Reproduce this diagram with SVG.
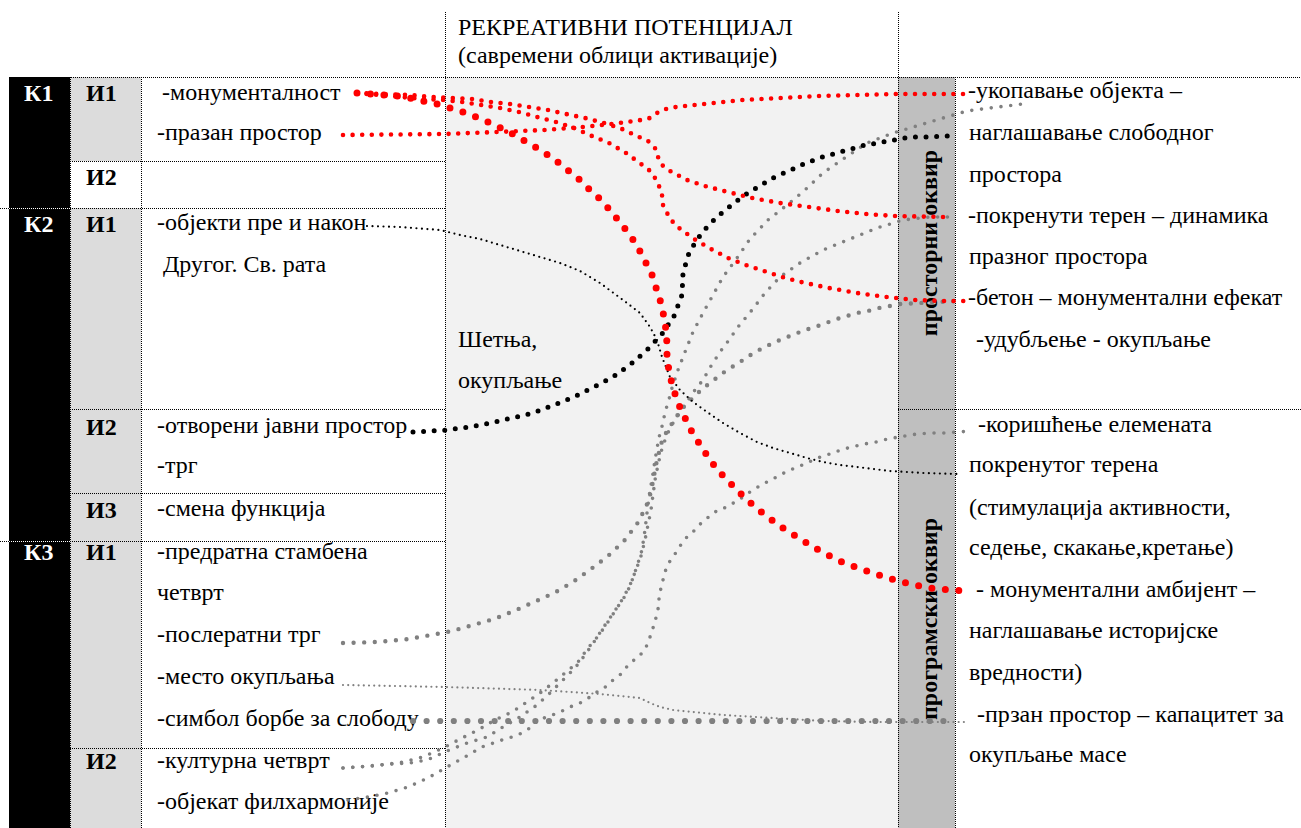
<svg xmlns="http://www.w3.org/2000/svg" width="1301" height="828" viewBox="0 0 1301 828">
<style>
text{font-family:"Liberation Serif","Times New Roman",serif;font-size:24px;fill:#000}
.b{font-weight:bold}
.w{fill:#fff}
.grid{stroke:#000;stroke-width:1;stroke-dasharray:1 1;fill:none}
.c{fill:none;stroke-linecap:round;stroke-linejoin:round}
.rbig{stroke:#ff0000;stroke-width:7;stroke-dasharray:0 13.5}
.rmed{stroke:#ff0000;stroke-width:4.6;stroke-dasharray:0 9.6}
.kmed{stroke:#000;stroke-width:5;stroke-dasharray:0 10.6}
.kthin{stroke:#000;stroke-width:2.2;stroke-dasharray:0 5.5}
.gbig{stroke:#808080;stroke-width:6.2;stroke-dasharray:0 13.6}
.gmed{stroke:#808080;stroke-width:4.4;stroke-dasharray:0 10.6}
.gsm{stroke:#808080;stroke-width:3.6;stroke-dasharray:0 9.8}
.gthin{stroke:#808080;stroke-width:2.2;stroke-dasharray:0 5.2}
</style>

<g id="backgrounds">
<rect x="445" y="77" width="453" height="751" fill="#f2f2f2"/>
<rect x="898" y="77" width="57" height="751" fill="#bfbfbf"/>
</g>

<g id="header">
<text x="458" y="35">РЕКРЕАТИВНИ ПОТЕНЦИЈАЛ</text>
<text x="458" y="63">(савремени облици активације)</text>
</g>

<g id="k1">
<rect x="9" y="77" width="61" height="131" fill="#000"/>
<text class="b w" x="24" y="101">К1</text>
</g>
<g id="k2">
<rect x="9" y="209" width="61" height="332" fill="#000"/>
<text class="b w" x="24" y="232">К2</text>
</g>
<g id="k3">
<rect x="9" y="542" width="61" height="286" fill="#000"/>
<text class="b w" x="24" y="560">К3</text>
</g>

<g id="k1-i1">
<rect x="70" y="77" width="71" height="84" fill="#dcdcdc"/>
<text class="b" x="86" y="101">И1</text>
<text x="162" y="100">-монументалност</text>
<text x="157" y="140">-празан простор</text>
</g>
<g id="k1-i2">
<text class="b" x="86" y="185">И2</text>
</g>
<g id="k2-i1">
<rect x="70" y="208" width="71" height="201" fill="#dcdcdc"/>
<text class="b" x="86" y="232">И1</text>
<text x="157" y="230">-објекти пре и након</text>
<text x="163" y="272">Другог. Св. рата</text>
</g>
<g id="k2-i2">
<rect x="70" y="409" width="71" height="84" fill="#dcdcdc"/>
<text class="b" x="86" y="435">И2</text>
<text x="157" y="433">-отворени јавни простор</text>
<text x="157" y="473">-трг</text>
</g>
<g id="k2-i3">
<rect x="70" y="493" width="71" height="48" fill="#dcdcdc"/>
<text class="b" x="86" y="518">И3</text>
<text x="157" y="516">-смена функција</text>
</g>
<g id="k3-i1">
<rect x="70" y="541" width="71" height="207" fill="#dcdcdc"/>
<text class="b" x="86" y="560">И1</text>
<text x="157" y="559">-предратна стамбена</text>
<text x="157" y="600">четврт</text>
<text x="157" y="642">-послератни трг</text>
<text x="157" y="684">-место окупљања</text>
<text x="157" y="726">-симбол борбе за слободу</text>
</g>
<g id="k3-i2">
<rect x="70" y="748" width="71" height="80" fill="#dcdcdc"/>
<text class="b" x="86" y="769">И2</text>
<text x="157" y="768">-културна четврт</text>
<text x="157" y="809">-објекат филхармоније</text>
</g>

<g id="middle">
<text x="458" y="347">Шетња,</text>
<text x="458" y="388">окупљање</text>
</g>

<g id="prostorni">
<text class="b" text-anchor="middle" transform="translate(937,243) rotate(-90)">просторни оквир</text>
<text x="968" y="98">-укопавање објекта –</text>
<text x="969" y="140">наглашавање слободног</text>
<text x="969" y="182">простора</text>
<text x="968" y="223">-покренути терен – динамика</text>
<text x="969" y="264">празног простора</text>
<text x="968" y="305">-бетон – монументални ефекат</text>
<text x="976" y="347">-удубљење - окупљање</text>
</g>

<g id="programski">
<text class="b" text-anchor="middle" transform="translate(937,619) rotate(-90)">програмски оквир</text>
<text x="978" y="432">-коришћење елемената</text>
<text x="969" y="472">покренутог терена</text>
<text x="969" y="515">(стимулација активности,</text>
<text x="969" y="555">седење, скакање,кретање)</text>
<text x="976" y="597">- монументални амбијент –</text>
<text x="969" y="638">наглашавање историјске</text>
<text x="969" y="680">вредности)</text>
<text x="977" y="722">-прзан простор – капацитет за</text>
<text x="969" y="762">окупљање масе</text>
</g>

<g id="grid" class="grid">
<path d="M9,77.5H1301"/>
<path d="M70,161.5H445"/>
<path d="M0,208.5H445"/>
<path d="M70,409.5H445M898,409.5H1301"/>
<path d="M70,493.5H445"/>
<path d="M0,541.5H445"/>
<path d="M70,748.5H445"/>
<path d="M70.5,77V828M141.5,77V828"/>
<path d="M445.5,12V828M898.5,12V828"/>
<path d="M955.5,77V828"/>
</g>

<g id="connectors" class="c">
<path class="gthin" d="M343,685 L445,687 L540,690 L600,694 L640,698 L650,703 L660,707 L673,710 L723,715 L773,718 L823,721 L873,722 L967,722"/>
<path class="gbig" d="M413,721 L947,721"/>
<path class="gmed" d="M343,643 L377,642 L409,639 L431,635 L452,631 L473,625 L494,619 L514,611 L534,602 L554,593 L573,582 L591,569 L608,556 L624,541 L637,524 L646,507 L651,492 L654,476 L657,460 L662,441 L667,431 L673,422 L679,413 L686,404 L694,397 L702,389 L710,383 L719,376 L727,370 L737,364 L746,358 L755,352 L765,347 L775,342 L785,338 L795,334 L805,330 L815,327 L826,323 L837,319 L847,316 L857,313 L868,311 L879,308 L890,306 L900,304 L920,303 L957,301"/>
<path class="gsm" d="M343,768 L373,766 L403,762 L423,757 L445,747 L462,738 L478,730 L495,720 L512,712 L527,702 L540,693 L553,683 L565,673 L578,662 L588,648 L599,635 L608,622 L617,608 L627,593 L633,578 L638,563 L642,550 L645,530 L647,513 L650,490 L652,480 L655,460 L658,443 L660,433 L663,423 L665,412 L668,403 L672,388 L678,370 L685,352 L693,332 L703,313 L713,295 L723,277 L737,258 L750,239 L768,220 L787,205 L805,190 L823,173 L846,157 L867,143 L893,133 L920,125 L943,118 L967,111 L990,108 L1023,104"/>
<path class="gsm" d="M343,768 L393,764 L410,763 L427,760 L447,751 L467,743 L487,737 L503,727 L520,717 L537,705 L550,693 L563,680 L575,668 L585,655 L594,642 L603,628 L612,615 L622,600 L630,585 L636,570 L641,556 L645,540 L648,525 L651,510 L653,495 L655,480 L658,465 L661,452 L665,440 L670,428 L676,418 L682,410 L688,400 L695,390 L703,380 L711,366 L720,352 L729,340 L738,327 L752,310 L765,293 L780,277 L800,263 L823,250 L850,239 L877,228 L903,220 L930,217 L957,217"/>
<path class="gsm" d="M348,800 L368,797 L388,793 L408,787 L428,778 L447,767 L465,757 L482,747 L502,740 L512,737 L522,733 L530,728 L538,720 L550,716 L560,712 L570,707 L580,703 L590,697 L600,690 L607,686 L613,680 L620,675 L630,663 L637,658 L645,650 L650,637 L655,622 L657,613 L659,605 L659,597 L661,588 L663,580 L665,572 L668,564 L673,557 L677,551 L682,543 L687,537 L693,532 L698,526 L705,520 L711,515 L718,510 L727,507 L735,502 L743,497 L750,492 L758,487 L765,483 L773,479 L780,475 L788,471 L797,467 L805,464 L813,460 L823,456 L833,453 L843,449 L853,447 L863,444 L873,443 L883,440 L893,438 L905,436 L917,434 L930,433 L943,433 L972,431"/>
<path class="kthin" d="M367,226 L400,227 L440,230 L460,235 L480,239 L500,245 L520,251 L540,257 L560,263 L580,271 L600,283 L623,300 L640,313 L650,327 L657,340 L662,357 L670,377 L680,390 L693,402 L707,412 L723,423 L740,433 L757,442 L773,448 L790,453 L807,458 L823,462 L840,465 L857,467 L873,469 L890,471 L907,472 L923,473 L958,474"/>
<path class="kmed" d="M413,432 L447,430 L469,427 L491,423 L512,418 L533,413 L554,405 L574,397 L594,387 L613,377 L631,364 L647,350 L662,334 L674,316 L682,295 L683,273 L686,263 L689,253 L695,243 L701,234 L708,226 L716,218 L724,211 L733,204 L742,197 L751,191 L760,186 L769,180 L779,175 L789,171 L799,166 L809,162 L819,158 L830,155 L840,152 L851,149 L861,146 L872,144 L883,142 L894,140 L905,138 L915,137 L927,137 L948,136"/>
<path class="rmed" d="M343,135 L445,134 L497,132 L545,130 L583,127 L612,124 L641,120 L650,118 L657,113 L666,109 L676,107 L704,104 L743,100 L781,98 L819,96 L858,95 L896,94 L964,94"/>
<path class="rmed" d="M357,93 L380,94 L410,95 L433,97 L453,98 L472,99 L491,102 L510,104 L529,107 L548,110 L566,114 L585,118 L604,123 L622,129 L639,137 L648,141 L655,148 L658,157 L662,165 L670,171 L687,180 L705,186 L724,191 L752,198 L780,203 L809,207 L838,211 L866,214 L895,216 L945,217"/>
<path class="rmed" d="M357,93 L390,96 L423,99 L445,100 L462,102 L481,105 L500,108 L519,112 L537,117 L556,122 L574,128 L592,136 L609,143 L626,153 L641,164 L649,170 L655,178 L659,186 L662,195 L663,205 L667,213 L672,221 L679,228 L694,239 L711,249 L728,258 L746,265 L764,271 L782,277 L801,282 L829,288 L857,293 L886,297 L915,300 L944,301 L966,301"/>
<path class="rbig" d="M357,93 L370,94 L383,95 L397,96 L410,98 L423,101 L437,104 L450,108 L463,112 L476,117 L488,122 L501,128 L513,134 L525,141 L537,148 L548,155 L559,163 L570,172 L580,180 L590,190 L600,199 L609,209 L618,220 L626,230 L634,241 L641,253 L647,265 L653,277 L657,291 L661,303 L664,317 L666,330 L667,344 L667,357 L669,371 L672,384 L676,397 L681,410 L687,422 L693,434 L701,446 L708,457 L716,468 L725,478 L735,488 L744,497 L754,506 L765,515 L776,523 L787,531 L799,538 L810,545 L822,552 L834,558 L846,564 L859,568 L872,573 L885,577 L898,581 L911,584 L924,587 L938,589 L952,590 L966,591"/>
</g>
</svg>
